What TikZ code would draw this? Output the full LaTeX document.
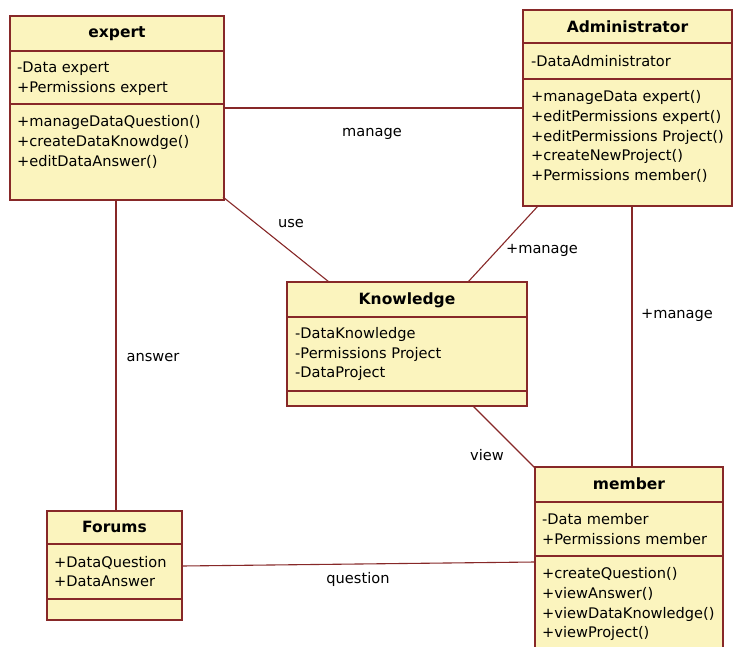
\documentclass[tikz,border=0pt]{standalone}
\usepackage{fontspec}
\setmainfont{DejaVu Sans}
\definecolor{boxfill}{RGB}{251,244,190}
\definecolor{boxline}{RGB}{135,40,40}
\begin{document}
\begin{tikzpicture}[x=1pt,y=-1pt,
 cls/.style={draw=boxline, fill=boxfill, line width=1.3pt, anchor=north west, inner sep=0, outer sep=0},
 sep/.style={draw=boxline, line width=1.3pt},
 conn/.style={draw=boxline, line width=1.1pt},
 ttl/.style={anchor=base, inner sep=0, font=\fontsize{15.5}{18}\selectfont\bfseries},
 txt/.style={anchor=base west, inner sep=0, font=\fontsize{14.6}{17}\selectfont},
 lbl/.style={inner sep=0, font=\fontsize{14.6}{17}\selectfont}]
\useasboundingbox (0,0) rectangle (733,647);
\clip (0,0) rectangle (733,647);
\fill[white] (0,0) rectangle (733,647);

% ---- class boxes ----
\node[cls, minimum width=214pt, minimum height=184pt] (expert) at (10,16) {};
\draw[sep] (expert.west |- 0,51) -- (expert.east |- 0,51);
\draw[sep] (expert.west |- 0,104) -- (expert.east |- 0,104);
\node[ttl] (expertT) at (117,38) {expert};
\node[txt] (ex1) at (17,73) {-Data expert};
\node[txt] (ex2) at (17,93) {+Permissions expert};
\node[txt] (ex3) at (17,127) {+manageDataQuestion()};
\node[txt] (ex4) at (17,147) {+createDataKnowdge()};
\node[txt] (ex5) at (17,167) {+editDataAnswer()};

\node[cls, minimum width=209pt, minimum height=196pt] (admin) at (523,10) {};
\draw[sep] (admin.west |- 0,43) -- (admin.east |- 0,43);
\draw[sep] (admin.west |- 0,79) -- (admin.east |- 0,79);
\node[ttl] (adminT) at (627.5,33) {Administrator};
\node[txt] (ad1) at (531,67) {-DataAdministrator};
\node[txt] (ad2) at (531,102) {+manageData expert()};
\node[txt] (ad3) at (531,122) {+editPermissions expert()};
\node[txt] (ad4) at (531,142) {+editPermissions Project()};
\node[txt] (ad5) at (531,161) {+createNewProject()};
\node[txt] (ad6) at (531,181) {+Permissions member()};

\node[cls, minimum width=240pt, minimum height=124pt] (know) at (287,282) {};
\draw[sep] (know.west |- 0,317) -- (know.east |- 0,317);
\draw[sep] (know.west |- 0,391) -- (know.east |- 0,391);
\node[ttl] (knowT) at (407,304) {Knowledge};
\node[txt] (kn1) at (295,338) {-DataKnowledge};
\node[txt] (kn2) at (295,358) {-Permissions Project};
\node[txt] (kn3) at (295,377) {-DataProject};

\node[cls, minimum width=188pt, minimum height=200pt] (member) at (535,467) {};
\draw[sep] (member.west |- 0,502) -- (member.east |- 0,502);
\draw[sep] (member.west |- 0,556) -- (member.east |- 0,556);
\node[ttl] (memberT) at (629,489) {member};
\node[txt] (me1) at (542,524) {-Data member};
\node[txt] (me2) at (542,544) {+Permissions member};
\node[txt] (me3) at (542,578) {+createQuestion()};
\node[txt] (me4) at (542,598) {+viewAnswer()};
\node[txt] (me5) at (542,618) {+viewDataKnowledge()};
\node[txt] (me6) at (542,637) {+viewProject()};

\node[cls, minimum width=135pt, minimum height=109pt] (forums) at (47,511) {};
\draw[sep] (forums.west |- 0,544) -- (forums.east |- 0,544);
\draw[sep] (forums.west |- 0,599) -- (forums.east |- 0,599);
\node[ttl] (forumsT) at (114.5,532) {Forums};
\node[txt] (fo1) at (54,567) {+DataQuestion};
\node[txt] (fo2) at (54,586) {+DataAnswer};

% ---- connectors ----
\draw[conn] (expert.east |- 0,108) -- (admin.west |- 0,108);
\draw[conn] ([xshift=-1pt,yshift=3pt]expert.south east) -- ([xshift=42pt]know.north west);
\draw[conn] ([xshift=15pt]admin.south west) -- ([xshift=-59pt]know.north east);
\draw[conn] (admin.south -| 632,0) -- (member.north -| 632,0);
\draw[conn] ([xshift=-54pt]know.south east) -- ([yshift=-1pt]member.north west);
\draw[conn] (expert.south -| 116,0) -- (forums.north -| 116,0);
\draw[conn] (forums.east |- 0,566) -- (member.west |- 0,562);

% ---- labels ----
\node[lbl] (lManage) at (372,134) {manage};
\node[lbl] (lUse) at (291,224) {use};
\node[lbl] (lManage2) at (542,250) {+manage};
\node[lbl] (lManage3) at (677,315) {+manage};
\node[lbl] (lView) at (487,455) {view};
\node[lbl] (lAnswer) at (153,358) {answer};
\node[lbl] (lQuestion) at (358,579) {question};
\end{tikzpicture}
\end{document}
